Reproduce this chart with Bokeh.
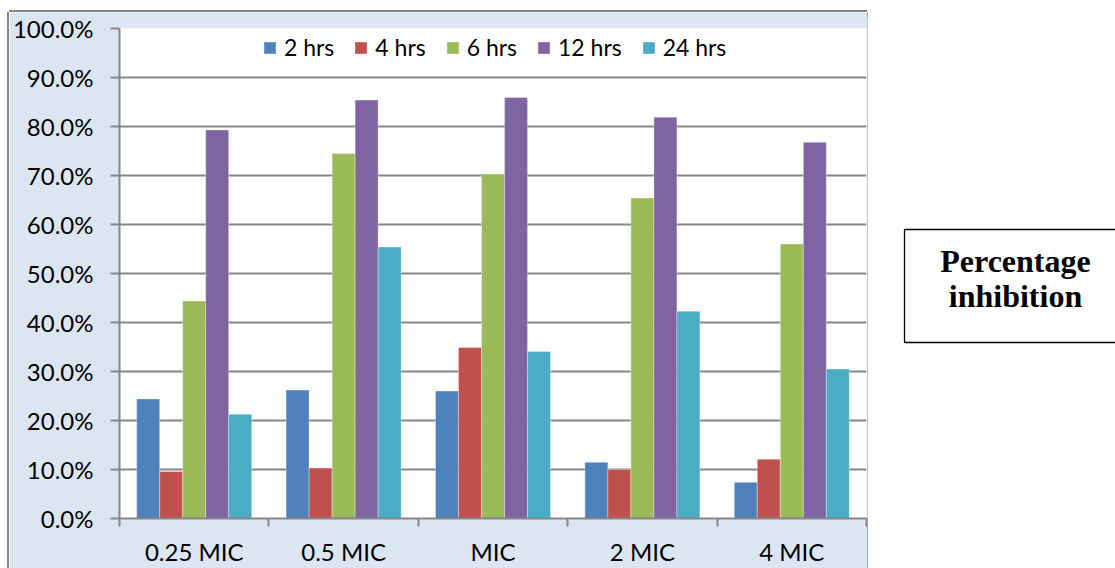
import numpy as np
import pandas as pd
from bokeh.plotting import figure
from bokeh.layouts import row
from bokeh.models import (ColumnDataSource, FixedTicker, NumeralTickFormatter, Range1d,
                          BoxAnnotation, Label, Legend, LegendItem)
from bokeh.transform import dodge
from bokeh.embed import file_html
from bokeh.resources import INLINE

# Concentration groups along the x axis
categories = ["0.25 MIC", "0.5 MIC", "MIC", "2 MIC", "4 MIC"]

# Percentage inhibition per exposure time
series_names = ["2 hrs", "4 hrs", "6 hrs", "12 hrs", "24 hrs"]
inhibition_2h = [24.4, 26.2, 26.0, 11.5, 7.4]
inhibition_4h = [9.6, 10.3, 34.9, 10.0, 12.1]
inhibition_6h = [44.4, 74.5, 70.3, 65.4, 56.0]
inhibition_12h = [79.3, 85.4, 85.9, 81.9, 76.8]
inhibition_24h = [21.3, 55.4, 34.1, 42.3, 30.5]

colors = ["#4f81bd", "#c0504d", "#9bbb59", "#8064a2", "#4bacc6"]
y_ticks = [0.0, 0.1, 0.2, 0.3, 0.4, 0.5, 0.6, 0.7, 0.8, 0.9, 1.0]

series_values = [inhibition_2h, inhibition_4h, inhibition_6h, inhibition_12h, inhibition_24h]
series_keys = ["h2", "h4", "h6", "h12", "h24"]

centers = np.arange(len(categories)) + 0.5
df = pd.DataFrame({"x": centers, "category": categories})
for key, vals in zip(series_keys, series_values):
    df[key] = np.array(vals) / 100.0
source = ColumnDataSource(df)

GRID = "#868686"
FONT = "Lato"

# Chart panel: canvas spans x 9..867, y 12..568 of the page
PANEL_X, PANEL_Y, PANEL_W, PANEL_H = 9, 12, 858, 556
FRAME_L, FRAME_R, FRAME_T, FRAME_B = 118, 866, 28, 520

p = figure(width=PANEL_W, height=PANEL_H,
           x_range=Range1d(0, len(categories)), y_range=Range1d(0, 1),
           output_backend="svg", toolbar_location=None,
           min_border_left=FRAME_L - PANEL_X, min_border_right=PANEL_X + PANEL_W - FRAME_R,
           min_border_top=FRAME_T - PANEL_Y, min_border_bottom=PANEL_Y + PANEL_H - FRAME_B,
           margin=(PANEL_Y, 0, 0, PANEL_X))
p.outline_line_color = None
p.background_fill_color = "white"
p.border_fill_color = "#dce6f2"
p.styles = {"box-shadow": f"-2px 0 0 0 {GRID}, 2px 0 0 0 {GRID}, 0 -2px 0 0 {GRID}"}

# Bars, dodged within each concentration group
bar_w = 0.154
offsets = [-2 * bar_w, -bar_w, 0.0, bar_w, 2 * bar_w]
items = []
for key, name, color, off in zip(series_keys, series_names, colors, offsets):
    r = p.vbar(x=dodge("x", off, range=p.x_range), top=key, width=bar_w, source=source,
               fill_color=color, line_color="white", line_alpha=0.35, line_width=1)
    items.append(LegendItem(label=name, renderers=[r]))

legend = Legend(items=items, orientation="horizontal", location=(143, 457),
                padding=0, margin=0, spacing=19, label_standoff=7,
                glyph_width=15, glyph_height=15,
                label_text_font=FONT, label_text_font_size="23px", label_text_color="#000000",
                border_line_alpha=0, background_fill_alpha=0)
p.add_layout(legend)

# Y axis
ya = p.yaxis[0]
ya.ticker = FixedTicker(ticks=y_ticks)
ya.formatter = NumeralTickFormatter(format="0.0%")
ya.axis_line_color = GRID
ya.axis_line_width = 2
ya.major_tick_line_color = GRID
ya.major_tick_line_width = 2
ya.major_tick_out = 9
ya.major_tick_in = 0
ya.minor_tick_line_color = None
ya.major_label_standoff = 17
ya.major_label_text_font = FONT
ya.major_label_text_font_size = "24px"
ya.major_label_text_color = "#000000"

# X axis: labels at group centres, ticks at group boundaries
xa = p.xaxis[0]
xa.ticker = FixedTicker(ticks=list(centers), minor_ticks=list(range(len(categories) + 1)))
xa.major_label_overrides = {float(c): lab for c, lab in zip(centers, categories)}
xa.axis_line_color = GRID
xa.axis_line_width = 2
xa.major_tick_line_color = None
xa.major_tick_out = 0
xa.major_tick_in = 0
xa.minor_tick_line_color = GRID
xa.minor_tick_line_width = 2
xa.minor_tick_out = 8
xa.minor_tick_in = 0
xa.major_label_standoff = 10
xa.major_label_text_font = FONT
xa.major_label_text_font_size = "24px"
xa.major_label_text_color = "#000000"

p.xgrid.visible = False
p.ygrid.ticker = FixedTicker(ticks=y_ticks)
p.ygrid.grid_line_color = GRID
p.ygrid.grid_line_width = 2

# Caption panel on the right (its frame is aligned with the chart frame by the row)
CAP_W, CAP_H = 1115 - PANEL_X - PANEL_W, 568
q = figure(width=CAP_W, height=CAP_H, x_range=Range1d(0, 1), y_range=Range1d(0, 1),
           x_axis_type=None, y_axis_type=None,
           output_backend="svg", toolbar_location=None,
           min_border=0, min_border_left=0, min_border_right=0,
           min_border_top=0, min_border_bottom=0)
q.outline_line_color = None
q.grid.visible = False
q.background_fill_color = "white"
q.border_fill_color = "white"

cap_x0 = PANEL_X + PANEL_W
caption_box = BoxAnnotation(left=904 - cap_x0, right=CAP_W + 10,
                            top=FRAME_B - 231, bottom=FRAME_B - 344,
                            left_units="screen", right_units="screen",
                            top_units="screen", bottom_units="screen",
                            fill_color="white", fill_alpha=1.0,
                            line_color="#000000", line_alpha=1.0, line_width=1.3)
q.add_layout(caption_box)
for text, cy in [("Percentage", 262), ("inhibition", 297)]:
    q.add_layout(Label(x=1015 - cap_x0, y=FRAME_B - cy, x_units="screen", y_units="screen",
                       text=text, text_align="center", text_baseline="middle",
                       text_font="Liberation Serif", text_font_style="bold",
                       text_font_size="32px", text_color="#000000"))

layout = row(p, q, spacing=0)
open("out.html", "w").write(file_html(layout, INLINE))
